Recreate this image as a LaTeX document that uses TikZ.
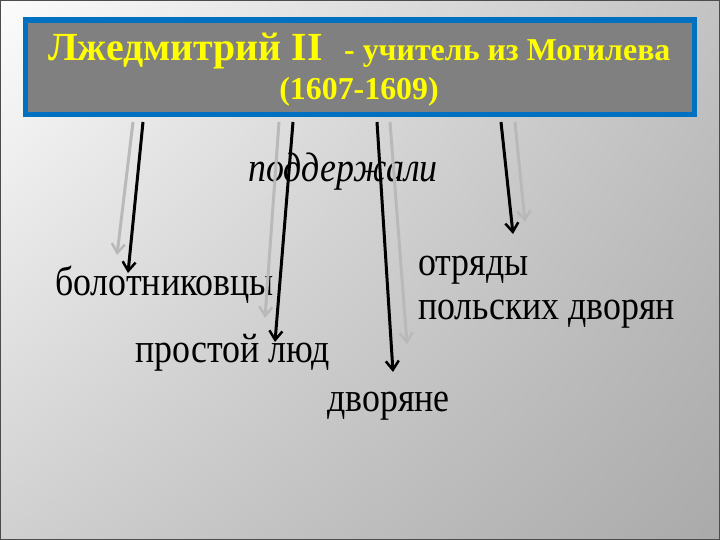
\documentclass[tikz,border=0pt]{standalone}
\usepackage{fontspec}
\setmainfont{Liberation Serif}
\usetikzlibrary{arrows.meta,shadings}
\definecolor{boxblue}{RGB}{0,112,192}
\definecolor{boxgray}{RGB}{128,128,128}
\definecolor{titleyellow}{RGB}{255,255,0}
\definecolor{lightarrow}{RGB}{185,185,185}
\definecolor{bgtl}{RGB}{252,252,252}
\definecolor{bgtr}{RGB}{195,195,195}
\definecolor{bgbl}{RGB}{208,208,208}
\definecolor{bgbr}{RGB}{170,170,170}
\newcommand{\talltext}[1]{\scalebox{1}[1.15]{#1}}
\begin{document}
\begin{tikzpicture}[x=1bp,y=-1bp,
  tip/.style={-{Straight Barb[length=9bp,width=13bp,line width=2.5bp]}},
  darrow/.style={tip,line width=3bp,draw=black},
  larrow/.style={tip,line width=3bp,draw=lightarrow},
  lbl/.style={inner sep=0pt,anchor=base west,font=\fontsize{36}{40}\selectfont},
  ttl/.style={inner sep=0pt,text=titleyellow}]
\useasboundingbox (0,0) rectangle (720,540);
\shade[upper left=bgtl,upper right=bgtr,lower left=bgbl,lower right=bgbr] (0,0) rectangle (720,540);
\draw[line width=1bp,gray!60!black] (0.5,0.5) rectangle (719.5,539.5);
% title box
\node (title) [fill=boxgray,draw=boxblue,line width=5.5bp,minimum width=669bp,minimum height=94.5bp,inner sep=0pt] at (360,67.25) {};
\node (t1) [ttl,anchor=base west,font=\bfseries\fontsize{40}{44}\selectfont] at (48,61) {Лжедмитрий II};
\node (t2) [ttl,anchor=base west,font=\bfseries\fontsize{32}{36}\selectfont] at (344,61) {- учитель из Могилева};
\node (t3) [ttl,anchor=base,font=\bfseries\fontsize{32}{36}\selectfont] at (359,100) {(1607-1609)};
% labels
\node (sup) [lbl,font=\fontsize{36}{40}\selectfont\itshape] at (248,182) {\talltext{поддержали}};
\node (bol) [lbl] at (55,295) {\talltext{болотниковцы}};
\node (pro) [lbl] at (135,362) {\talltext{простой люд}};
\node (dvo) [lbl] at (327,411) {\talltext{дворяне}};
\node (otr1) [lbl] at (418,276) {\talltext{отряды}};
\node (otr2) [lbl] at (418,319) {\talltext{польских дворян}};
% arrow end points
\coordinate (g1a) at (133,122); \coordinate (g1b) at (117,255);
\coordinate (g2a) at (279,122); \coordinate (g2b) at (265,318);
\coordinate (g3a) at (390,122); \coordinate (g3b) at (407,344);
\coordinate (g4a) at (515,122); \coordinate (g4b) at (525,222);
\coordinate (b1a) at (143,122); \coordinate (b1b) at (128,273);
\coordinate (b2a) at (293,122); \coordinate (b2b) at (275,342);
\coordinate (b3a) at (377,122); \coordinate (b3b) at (393,372);
\coordinate (b4a) at (501,122); \coordinate (b4b) at (513,234);
\draw[larrow] (g1a) -- (g1b);
\draw[larrow] (g2a) -- (g2b);
\draw[larrow] (g3a) -- (g3b);
\draw[larrow] (g4a) -- (g4b);
\draw[darrow] (b1a) -- (b1b);
\draw[darrow] (b2a) -- (b2b);
\draw[darrow] (b3a) -- (b3b);
\draw[darrow] (b4a) -- (b4b);
\end{tikzpicture}
\end{document}
